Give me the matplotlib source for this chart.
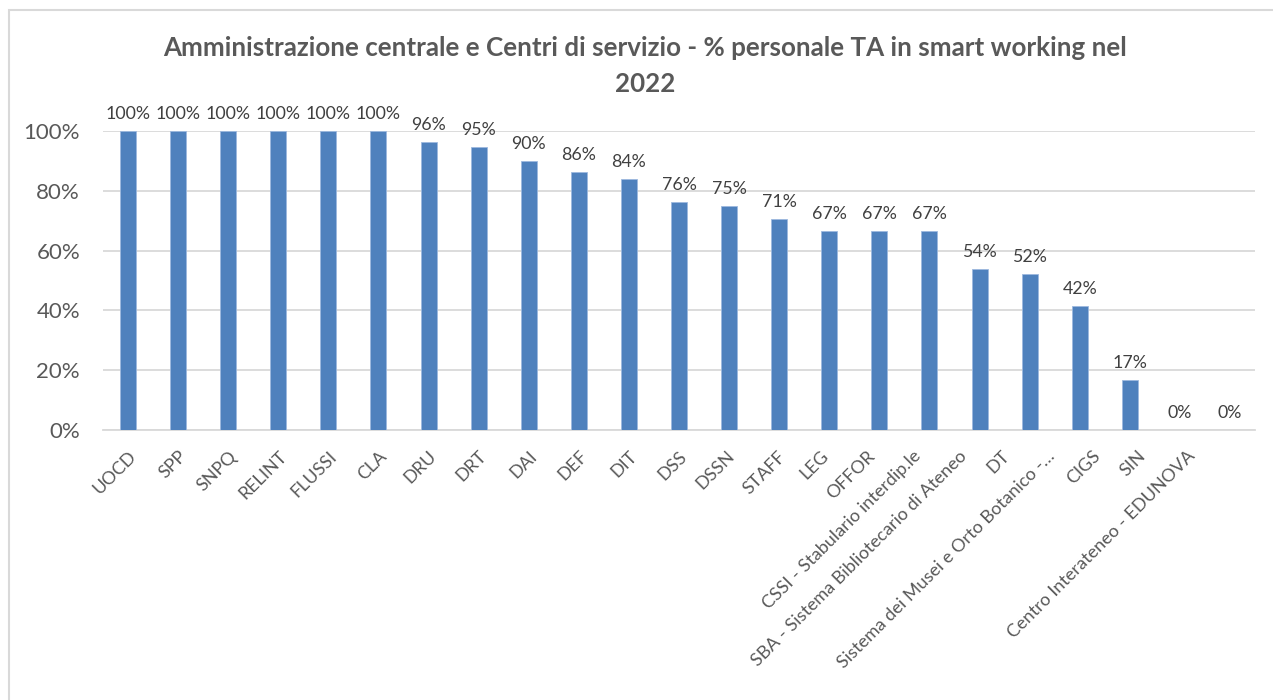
import matplotlib
matplotlib.use("Agg")
import matplotlib.pyplot as plt
from matplotlib.patches import Rectangle
from matplotlib.ticker import PercentFormatter
from matplotlib.transforms import ScaledTranslation

categories = [
    "UOCD", "SPP", "SNPQ", "RELINT", "FLUSSI", "CLA", "DRU", "DRT", "DAI", "DEF",
    "DIT", "DSS", "DSSN", "STAFF", "LEG", "OFFOR", "CSSI - Stabulario interdip.le",
    "SBA - Sistema Bibliotecario di Ateneo", "DT",
    "Sistema dei Musei e Orto Botanico -…", "CIGS", "SIN",
    "Centro Interateneo - EDUNOVA",
]
values = [
    1.00, 1.00, 1.00, 1.00, 1.00, 1.00, 0.963, 0.946, 0.90, 0.863,
    0.838, 0.763, 0.75, 0.706, 0.667, 0.667, 0.667,
    0.538, 0.521, 0.416, 0.167, 0.0, 0.0,
]
title = "Amministrazione centrale e Centri di servizio - % personale TA in smart working nel\n2022"

# Excel nudges the long rotated labels on the right to the left (pixels)
label_shift = [0] * 12 + [-3, -2, -9, -13, -17, -21, -28, -33, -38, -42, -43]

plt.rcParams["font.family"] = ["Lato", "DejaVu Sans"]
text_col = "#595959"
bar_col = "#4F81BD"

fig = plt.figure(figsize=(12.73, 7.0), dpi=100)
ax = fig.add_axes([103 / 1273, 1 - 430 / 700, 1152 / 1273, 299 / 700])

x = range(len(categories))
ax.bar(x, values, width=0.32, color=bar_col, edgecolor="#9DB9DF", linewidth=0.6, zorder=3)
for xi, v in zip(x, values):
    ax.text(xi, v + 0.03, f"{v:.0%}", ha="center", va="bottom", fontsize=12.8, color="#404040")

ax.set_xlim(-0.5, len(categories) - 0.5)
ax.set_ylim(0, 1.0)
ax.set_yticks([0, 0.2, 0.4, 0.6, 0.8, 1.0])
ax.yaxis.set_major_formatter(PercentFormatter(1.0, decimals=0))
ax.grid(True, axis="y", color="#D9D9D9", linewidth=1.3, zorder=0)
ax.set_axisbelow(True)
for s in ["top", "right", "left"]:
    ax.spines[s].set_visible(False)
ax.spines["bottom"].set_color("#D9D9D9")
ax.spines["bottom"].set_linewidth(1.3)
ax.tick_params(axis="both", length=0, colors=text_col)
ax.tick_params(axis="y", labelsize=16, pad=16.5)

ax.set_xticks(list(x))
ax.set_xticklabels(categories, rotation=45, ha="right", rotation_mode="anchor", fontsize=13)
ax.tick_params(axis="x", pad=13)
for lab, dx in zip(ax.get_xticklabels(), label_shift):
    lab.set_transform(lab.get_transform() + ScaledTranslation(dx / 100, 0, fig.dpi_scale_trans))

fig.text(645 / 1273, 1 - 66 / 700, title, ha="center", va="center", fontsize=18.7,
         fontweight="bold", color=text_col, linespacing=1.6)

fig.patches.append(Rectangle((9 / 1273, -0.05), 1.1, 1 - 10 / 700 + 0.05,
                             transform=fig.transFigure, fill=False,
                             edgecolor="#D9D9D9", linewidth=1.5))

fig.savefig("out.png", dpi=100)
